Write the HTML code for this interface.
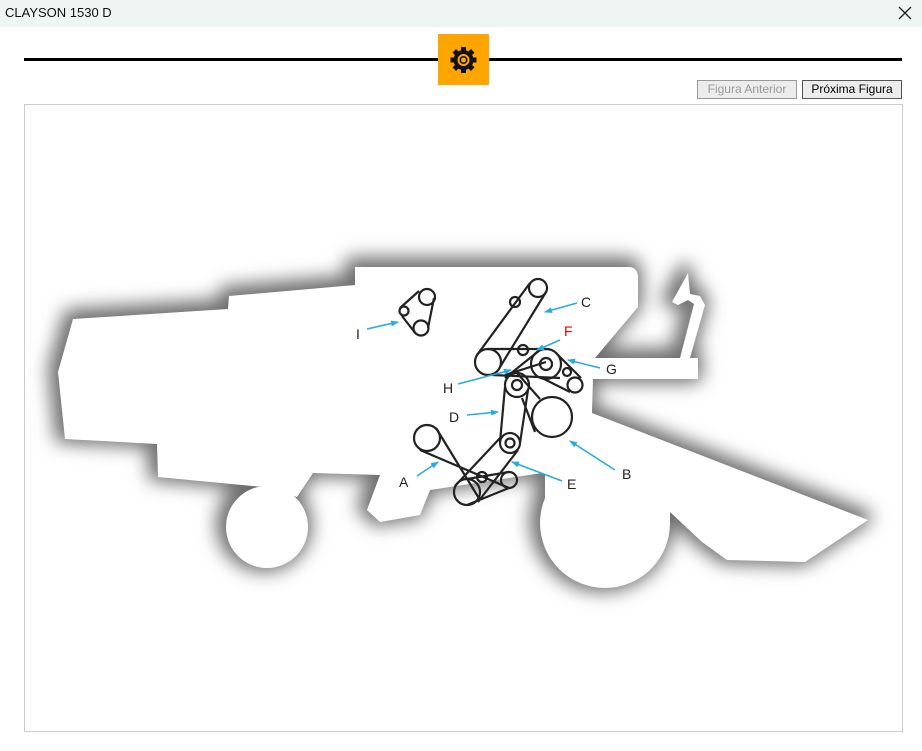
<!DOCTYPE html>
<html><head><meta charset="utf-8"><style>
html,body{margin:0;padding:0;width:922px;height:751px;background:#fff;overflow:hidden;font-family:"Liberation Sans",sans-serif}
.title{position:absolute;left:0;top:0;width:922px;height:27px;background:#eef5f2}
.title span{position:absolute;left:5px;top:5px;font-size:13px;color:#111}
.line{position:absolute;left:24px;top:58px;width:878px;height:3px;background:#000}
.gear{position:absolute;left:438px;top:34px;width:51px;height:51px;background:#ffa500}
.btn{position:absolute;top:80px;height:17px;border:1px solid #999;background:#ececec;font-size:12px;line-height:17px;text-align:center}
.panel{position:absolute;left:24px;top:104px;width:877px;height:626px;border:1px solid #ccc}
</style></head><body>
<div class="title"><span>CLAYSON 1530 D</span><svg style="position:absolute;left:898px;top:6px" width="14" height="14"><path d="M1,1 L13,13 M13,1 L1,13" stroke="#222" stroke-width="1.3"/></svg></div>
<div class="line"></div>
<div class="gear"><svg width="51" height="51" viewBox="0 0 51 51"><g transform="translate(25.5,26)" fill="#111"><g id="t"><rect x="-2.5" y="-13" width="5" height="5"/></g><use href="#t" transform="rotate(45)"/><use href="#t" transform="rotate(90)"/><use href="#t" transform="rotate(135)"/><use href="#t" transform="rotate(180)"/><use href="#t" transform="rotate(225)"/><use href="#t" transform="rotate(270)"/><use href="#t" transform="rotate(315)"/><circle r="10"/><circle r="6" fill="#ffa500"/><circle r="4" fill="#111"/><circle r="2.5" fill="#ffa500"/></g></svg></div>
<div class="btn" style="left:697px;width:98px;color:#999">Figura Anterior</div>
<div class="btn" style="left:802px;width:98px;color:#000;border-color:#555">Próxima Figura</div>
<div class="panel"></div>
<svg style="position:absolute;left:0;top:0" width="922" height="751">
<defs>
<filter id="bl" filterUnits="userSpaceOnUse" x="0" y="150" width="922" height="500"><feGaussianBlur stdDeviation="9"/></filter>
<marker id="ar" markerWidth="8" markerHeight="6" refX="7" refY="3" orient="auto" markerUnits="userSpaceOnUse"><path d="M0,0 L8,3 L0,6 Z" fill="#29abe2"/></marker>
<g id="sil">
<path d="M73,319 L228,309 L229,296 L355,285 L355,267 L630,267 Q638,268 638,278 L638,307 L595,358 L698,358 L698,379 L593,379 L592,413 L868,520 L805,562 L727,560 L702,542 L670,512 L542,473 L430,490 L420,515 L380,522 L367,510 L380,475 L313,473 L297,497 L263,487 L158,477 L157,444 L65,439 L58,372 Z"/>
<circle cx="267" cy="527" r="41"/>
<circle cx="605" cy="523" r="65"/>
<rect x="545" y="470" width="125" height="55"/>
<path d="M672,358 L690,358 L705,305 L700,296 L690,294 L688,273 L672,302 L678,305 L688,300 L694,304 L680,358 Z"/>
</g>
</defs>
<g filter="url(#bl)" fill="#6e6e6e" stroke="#6e6e6e" stroke-width="14" stroke-linejoin="round"><use href="#sil" transform="translate(-3,-3)"/></g>
<g fill="#fff"><use href="#sil"/></g>
<g fill="none" stroke="#222" stroke-width="2.2">
<circle cx="427" cy="297" r="8"/><circle cx="404" cy="311" r="4.5"/><circle cx="421" cy="328" r="7.5"/>
<path d="M400,308 L419,291 M402,316 L416,334 M434,298 L428,328"/>
<circle cx="538" cy="288" r="9"/><circle cx="515" cy="302" r="5"/><circle cx="488" cy="362" r="13"/>
<path d="M530,283 L477,355 M546,292 L500,367"/>
<circle cx="523" cy="350" r="5"/>
<circle cx="546" cy="364" r="15"/><circle cx="546" cy="364" r="6"/>
<circle cx="567" cy="372" r="4"/><circle cx="575" cy="385" r="7.5"/>
<path d="M488,349 L546,349 M492,375 L560,378 M505,378 L540,350 M556,353 L581,378 M540,377 L570,392"/>
<circle cx="517" cy="385" r="12"/><circle cx="517" cy="385" r="5"/>
<circle cx="552" cy="417" r="20"/>
<path d="M505,387 L500,442 M528,390 L520,443 M517,373 L540,399 M522,398 L535,432 M505,375 L546,362"/>
<circle cx="510" cy="443" r="10"/><circle cx="510" cy="443" r="4.5"/>
<circle cx="427" cy="438" r="13"/><circle cx="467" cy="492" r="13"/><circle cx="482" cy="477" r="5"/><circle cx="509" cy="480" r="8"/>
<path d="M420,450 L509,488 M436,428 L480,500 M467,479 L509,472 M467,505 L509,488 M501,437 L455,486 M518,450 L478,502"/>
</g>
<g stroke="#29abe2" stroke-width="1.6" marker-end="url(#ar)">
<line x1="577" y1="303" x2="545" y2="312"/><line x1="560" y1="340" x2="537" y2="350"/><line x1="600" y1="368" x2="568" y2="360"/><line x1="458" y1="384" x2="511" y2="370"/><line x1="467" y1="415" x2="498" y2="412"/><line x1="615" y1="470" x2="570" y2="441"/><line x1="562" y1="481" x2="512" y2="462"/><line x1="417" y1="476" x2="438" y2="462"/><line x1="367" y1="329" x2="398" y2="322"/>
</g>
<g font-family="Liberation Sans" font-size="14" fill="#222">
<text x="581" y="307">C</text><text x="564" y="336" fill="#e00">F</text><text x="606" y="374">G</text><text x="443" y="393">H</text><text x="449" y="422">D</text><text x="622" y="479">B</text><text x="567" y="489">E</text><text x="399" y="487">A</text><text x="356" y="339">I</text>
</g>
</svg>
</body></html>
